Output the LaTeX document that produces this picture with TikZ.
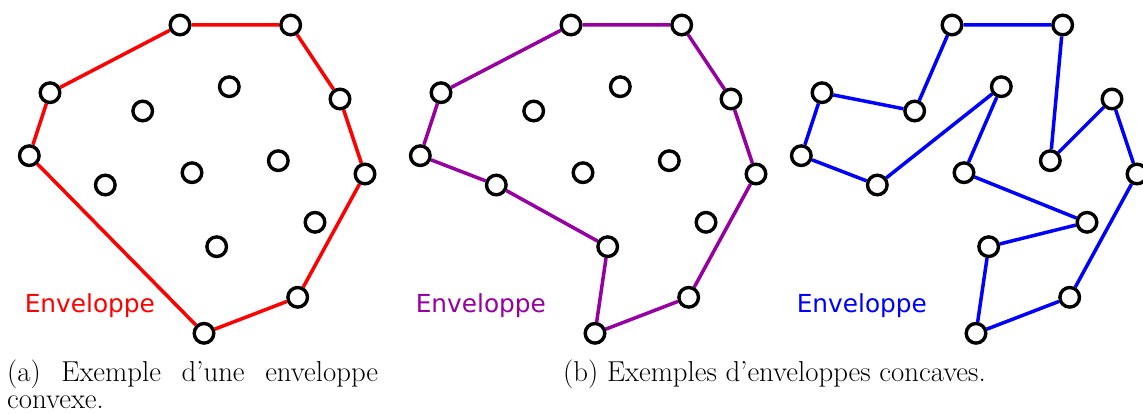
\documentclass[tikz,border=0pt]{standalone}
\usepackage{fontspec}
\newfontfamily\dejavu{DejaVu Sans}
\usetikzlibrary{backgrounds}
\definecolor{envpurple}{RGB}{150,0,160}
\tikzset{
  pt/.style={circle,draw=black,line width=3.4pt,fill=white,inner sep=0pt,minimum size=19.6pt},
  hull/.style={line width=3.5pt},
  lbl/.style={font=\dejavu\fontsize{24.8}{30}\selectfont,anchor=base west,inner sep=0pt},
  capt/.style={font=\fontsize{28.8}{27}\selectfont,anchor=base west,inner sep=0pt}
}
\newcommand\placepoints[1]{%
  \node[pt] (#1A) at (180,25) {};
  \node[pt] (#1B) at (290.7,25) {};
  \node[pt] (#1C) at (340,99) {};
  \node[pt] (#1D) at (365,174) {};
  \node[pt] (#1E) at (297.7,297.3) {};
  \node[pt] (#1F) at (204,333.3) {};
  \node[pt] (#1G) at (29.3,155.7) {};
  \node[pt] (#1H) at (50,92.7) {};
  \node[pt] (#1I1) at (142.7,111) {};
  \node[pt] (#1I2) at (229.3,86.7) {};
  \node[pt] (#1I3) at (192,172.7) {};
  \node[pt] (#1I4) at (278.3,160.7) {};
  \node[pt] (#1I5) at (105.3,185) {};
  \node[pt] (#1I6) at (315,222.3) {};
  \node[pt] (#1I7) at (216.7,246.7) {};
}
\begin{document}
\begin{tikzpicture}[x=1pt,y=-1pt]
\useasboundingbox (0,0) rectangle (1143,414);
\begin{scope}\placepoints{a}\end{scope}
\begin{scope}[xshift=391pt]\placepoints{b}\end{scope}
\begin{scope}[xshift=772pt]\placepoints{c}\end{scope}
\begin{pgfonlayer}{background}
\draw[hull,red] (aA) -- (aB) -- (aC) -- (aD) -- (aE) -- (aF) -- (aG) -- (aH) -- (aA);
\draw[hull,envpurple] (bA) -- (bB) -- (bC) -- (bD) -- (bE) -- (bF) -- (bI7) -- (bI5) -- (bG) -- (bH) -- (bA);
\draw[hull,blue] (cA) -- (cB) -- (cI4) -- (cC) -- (cD) -- (cE) -- (cF) -- (cI7) -- (cI6) -- (cI3) -- (cI2) -- (cI5) -- (cG) -- (cH) -- (cI1) -- (cA);
\end{pgfonlayer}
\node[lbl,text=red] (la) at (24.6,312) {Enveloppe};
\node[lbl,text=envpurple] (lb) at (415.6,312) {Enveloppe};
\node[lbl,text=blue] (lc) at (796.6,312) {Enveloppe};
\node[capt] (capa) at (7,381) {\vtop{\baselineskip=27pt\hbox to 371pt{(a)\hfill Exemple\hfill d'une\hfill enveloppe}\hbox{convexe.}}};
\node[capt] (capb) at (563,381) {(b) Exemples d'enveloppes concaves.};
\end{tikzpicture}
\end{document}
